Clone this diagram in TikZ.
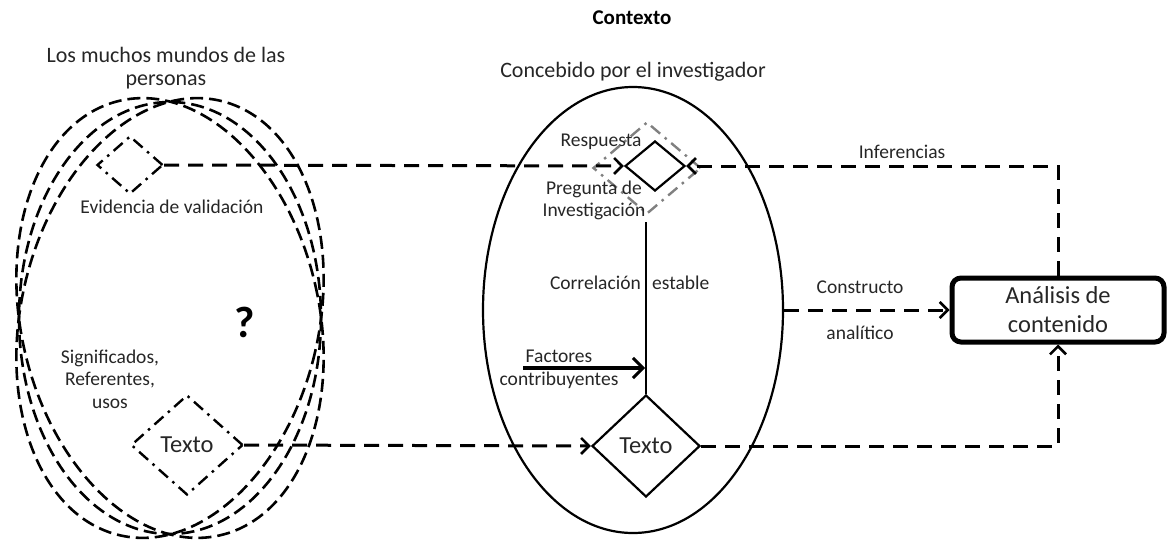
\documentclass[tikz,border=0pt]{standalone}
\usepackage{fontspec}
\setmainfont{Carlito}
\usetikzlibrary{shapes.geometric,arrows.meta}
\begin{document}
\begin{tikzpicture}[x=1pt,y=-1pt,
  lbl/.style={text=black!85, inner sep=0pt, font=\fontsize{22}{26}\selectfont},
  blbl/.style={text=black!85, inner sep=0pt, font=\fontsize{24.5}{29}\selectfont},
  slbl/.style={text=black!85, inner sep=0pt, font=\fontsize{19.5}{22}\selectfont},
  dline/.style={line width=3pt, dash pattern=on 15pt off 9pt},
  tip/.style={-{Straight Barb[length=8pt,width=16pt,line width=2.6pt]}},
  dashdot/.style={draw, line width=2.4pt, dash pattern=on 12pt off 6pt on 2.5pt off 6pt},
  wdash/.style={line width=2.6pt, dash pattern=on 13pt off 6pt},
  dia/.style={diamond, inner sep=0pt, aspect=1},
]
\useasboundingbox (0,0) rectangle (1169,544);

% left ellipses
\draw[wdash] (170,318) ellipse [x radius=151, y radius=216];
\draw[wdash, rotate around={13:(170,318)}] (170,318) ellipse [x radius=149, y radius=223];
\draw[wdash, rotate around={-13:(170,318)}] (170,318) ellipse [x radius=149, y radius=223];

\node[font=\bfseries\fontsize{21}{25}\selectfont, inner sep=0pt] (ctx) at (632,18) {Contexto};
\node[lbl] (mundos1) at (166,55) {Los muchos mundos de las};
\node[lbl] (mundos2) at (166,82) {personas};

\node[dia, dashdot, minimum width=66pt, minimum height=58pt] (val) at (130,165) {};
\node[slbl] (evid) at (172,207) {Evidencia de validación};
\node[font=\bfseries\fontsize{44}{50}\selectfont, inner sep=0pt] (q) at (245,322) {?};
\node[slbl, align=center, font=\fontsize{19.5}{22.5}\selectfont] (sig) at (110,379) {Significados,\\Referentes,\\usos};
\node[dia, dashdot, minimum width=112pt, minimum height=100pt, blbl] (txtL) at (187,445) {Texto};

% big ellipse
\node[ellipse, draw, line width=2.2pt, minimum width=300pt, minimum height=446pt] (bigell) at (633,310) {};
\node[lbl] (conc) at (633,72) {Concebido por el investigador};

\node[dia, dashdot, draw=gray, minimum width=108pt, minimum height=92pt] (gray) at (647,168) {};
\node[dia, draw, line width=2.2pt, minimum width=60pt, minimum height=50pt] (resp) at (655,166) {};
\node[slbl] (respl) at (601,142) {Respuesta};
\node[slbl, align=center] (preg) at (594,200) {Pregunta de\\Investigación};

\node[dia, draw, line width=2.2pt, minimum width=108pt, minimum height=102pt, blbl] (txtR) at (646,446) {Texto};
\coordinate (qtop) at (646,222);
\draw[line width=2.8pt] (qtop) -- (txtR.north);
\node[slbl, anchor=east] (corr) at (641,283) {Correlación};
\node[slbl, anchor=west] (estab) at (652,283) {estable};
\coordinate (fstart) at (523,368);
\coordinate (fend) at (645,368);
\draw[line width=3.2pt, -{Straight Barb[length=10pt,width=20pt,line width=3pt]}] (fstart) -- (fend);
\node[slbl] (fac) at (559,356) {Factores};
\node[slbl] (contr) at (559,380) {contribuyentes};

% box
\node[draw, line width=5pt, rounded corners=9pt, minimum width=212pt, minimum height=64pt, align=center, blbl, font=\fontsize{24.5}{29}\selectfont] (box) at (1058,310) {Análisis de\\contenido};

% connectors
\draw[dline, tip] (val.east) -- (resp.west);
\draw[dline, tip] (box.north) |- (resp.east);
\draw[dline, tip] (txtL.east) -- (txtR.west);
\draw[dline, tip] (txtR.east) -| (box.south);
\draw[dline, tip] (bigell.east) -- (box.west);

\node[slbl] (inf) at (902,152) {Inferencias};
\node[slbl] (cons) at (860,287) {Constructo};
\node[slbl] (anal) at (860,333) {analítico};
\end{tikzpicture}
\end{document}
